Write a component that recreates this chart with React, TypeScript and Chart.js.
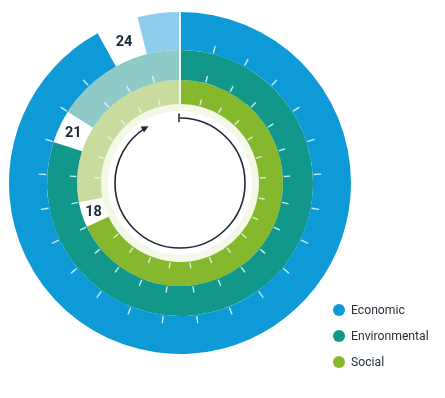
import React, { useEffect, useRef } from 'react';
import { Chart, registerables } from 'chart.js';

Chart.register(...registerables);

// ---- data ----
const categories = ['Economic', 'Environmental', 'Social'];
const milestoneLabels = ['24', '21', '18'];
const completedUnits = [23, 20, 17];
const gapUnits = [1, 1, 1];
const remainingUnits = [1, 4, 7];
const TOTAL_UNITS = 25;

// ---- styles ----
const darkColors = ['#0e9ad7', '#12978b', '#86b82d'];
const lightColors = ['#8ecdec', '#8fcac7', '#c9dc9e'];
const ringWeights = [38, 30, 24];
const tickLengths = [6.5, 5.5, 5];
const creamColor = '#f4f8e6';
const navy = '#1c2934';

const decorPlugin = {
  id: 'decor',
  afterDatasetsDraw(chart: any) {
    const ctx: CanvasRenderingContext2D = chart.ctx;
    ctx.save();
    const unit = (2 * Math.PI) / TOTAL_UNITS;
    let cx = 0;
    let cy = 0;
    let innermost = 0;
    let outermost = 0;
    // ticks
    for (let d = 0; d < categories.length; d++) {
      const meta = chart.getDatasetMeta(d);
      const arc0 = meta.data[0];
      const p = arc0.getProps(['x', 'y', 'innerRadius', 'outerRadius'], true);
      cx = p.x;
      cy = p.y;
      if (d === 0) outermost = p.outerRadius;
      innermost = p.innerRadius;
      const gs = completedUnits[d];
      const ge = completedUnits[d] + gapUnits[d];
      ctx.strokeStyle = 'rgba(225,250,250,0.85)';
      ctx.lineWidth = 1.4;
      ctx.lineCap = 'round';
      for (let k = 1; k < TOTAL_UNITS; k++) {
        if (k >= gs && k <= ge) continue;
        const a = -Math.PI / 2 + k * unit;
        const r1 = p.innerRadius + 1.5;
        const r2 = p.innerRadius + 1.5 + tickLengths[d];
        ctx.beginPath();
        ctx.moveTo(p.x + r1 * Math.cos(a), p.y + r1 * Math.sin(a));
        ctx.lineTo(p.x + r2 * Math.cos(a), p.y + r2 * Math.sin(a));
        ctx.stroke();
      }
    }
    // start line at 12 o'clock
    ctx.strokeStyle = 'rgba(240,250,245,0.95)';
    ctx.lineWidth = 2;
    ctx.lineCap = 'butt';
    ctx.beginPath();
    ctx.moveTo(cx, cy - innermost);
    ctx.lineTo(cx, cy - outermost);
    ctx.stroke();

    // milestone labels
    ctx.fillStyle = navy;
    ctx.font = 'bold 14.5px Roboto, "DejaVu Sans", sans-serif';
    ctx.textAlign = 'center';
    ctx.textBaseline = 'middle';
    for (let d = 0; d < categories.length; d++) {
      const el = chart.getDatasetMeta(d).data[1];
      const pos = el.tooltipPosition(true);
      ctx.fillText(milestoneLabels[d], pos.x, pos.y + 1);
    }

    // circular arrow
    const ar = 65;
    const startA = -Math.PI / 2;
    const endA = -Math.PI / 2 + (331 / 360) * 2 * Math.PI;
    ctx.strokeStyle = navy;
    ctx.fillStyle = navy;
    ctx.lineWidth = 1.6;
    ctx.beginPath();
    ctx.arc(cx, cy, ar, startA, endA - 0.06, false);
    ctx.stroke();
    // start bar
    ctx.beginPath();
    ctx.moveTo(cx - 1, cy - ar - 4.5);
    ctx.lineTo(cx - 1, cy - ar + 4);
    ctx.stroke();
    // arrow head
    const tipA = endA;
    const tx = cx + ar * Math.cos(tipA);
    const ty = cy + ar * Math.sin(tipA);
    const dirx = -Math.sin(tipA);
    const diry = Math.cos(tipA);
    const nx = Math.cos(tipA);
    const ny = Math.sin(tipA);
    const len = 7;
    const half = 3.5;
    ctx.beginPath();
    ctx.moveTo(tx, ty);
    ctx.lineTo(tx - dirx * len + nx * half, ty - diry * len + ny * half);
    ctx.lineTo(tx - dirx * len - nx * half, ty - diry * len - ny * half);
    ctx.closePath();
    ctx.fill();

    // legend
    const lx = 339;
    const ly = 310;
    const step = 26;
    ctx.textAlign = 'left';
    ctx.textBaseline = 'middle';
    ctx.font = '12.2px Roboto, "DejaVu Sans", sans-serif';
    for (let d = 0; d < categories.length; d++) {
      ctx.fillStyle = darkColors[d];
      ctx.beginPath();
      ctx.arc(lx, ly + d * step, 6, 0, 2 * Math.PI);
      ctx.fill();
      ctx.fillStyle = '#26323c';
      ctx.fillText(categories[d], lx + 12, ly + d * step + 1);
    }
    ctx.restore();
  },
};

export default function App() {
  const ref = useRef<HTMLCanvasElement | null>(null);
  useEffect(() => {
    if (!ref.current) return;
    const datasets: any[] = categories.map((c, i) => ({
      label: c,
      data: [completedUnits[i], gapUnits[i], remainingUnits[i]],
      backgroundColor: [darkColors[i], 'rgba(255,255,255,0)', lightColors[i]],
      borderWidth: 0,
      hoverOffset: 0,
      offset: 0,
      weight: ringWeights[i],
    }));
    datasets.push({
      label: 'inner',
      data: [TOTAL_UNITS],
      backgroundColor: [creamColor],
      borderWidth: 0,
      hoverOffset: 0,
      offset: 0,
      weight: 7,
    });
    const chart = new Chart(ref.current, {
      type: 'doughnut',
      data: { labels: ['completed', 'milestone', 'remaining'], datasets },
      options: {
        responsive: false,
        animation: false,
        events: [],
        cutout: 72,
        layout: { padding: { left: 9, right: 94, top: 12, bottom: 44 } },
        plugins: { legend: { display: false }, tooltip: { enabled: false } },
      },
      plugins: [decorPlugin],
    });
    return () => chart.destroy();
  }, []);
  return (
    <div style={{ position: 'fixed', left: 0, top: 0, width: 445, height: 398, background: '#fff' }}>
      <canvas ref={ref} width={445} height={398} />
    </div>
  );
}
